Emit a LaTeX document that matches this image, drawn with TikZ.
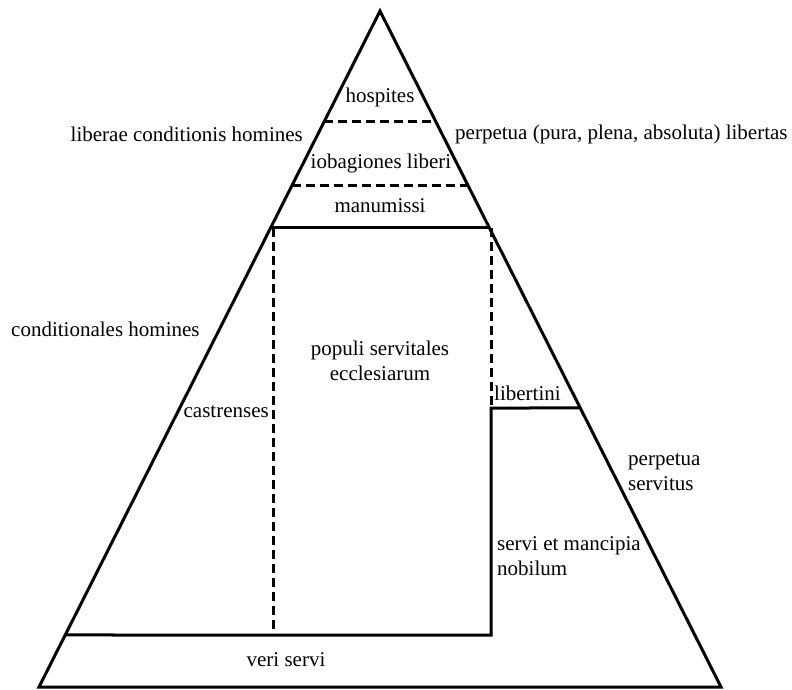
\documentclass[tikz,border=0pt]{standalone}
\usepackage{fontspec}
\setmainfont{LiberationSerif-Regular.ttf}
\usetikzlibrary{calc}
\begin{document}
\begin{tikzpicture}[x=1pt,y=-1pt,
  solidline/.style={line width=3pt},
  dashline/.style={line width=3pt,dash pattern=on 9pt off 5pt},
  lbl/.style={inner sep=0pt,font=\fontsize{21}{25}\selectfont}]
\useasboundingbox (0,0) rectangle (792,690);
\coordinate (A) at (380,11);
\coordinate (BL) at (39,687);
\coordinate (BR) at (721,687);
% edge points
\coordinate (L1) at ($(A)!{(122-11)/676}!(BL)$);
\coordinate (R1) at ($(A)!{(122-11)/676}!(BR)$);
\coordinate (L2) at ($(A)!{(186-11)/676}!(BL)$);
\coordinate (R2) at ($(A)!{(186-11)/676}!(BR)$);
\coordinate (L3) at ($(A)!{(228-11)/676}!(BL)$);
\coordinate (R3) at ($(A)!{(228-11)/676}!(BR)$);
\coordinate (R4) at ($(A)!{(408-11)/676}!(BR)$);
\coordinate (L5) at ($(A)!{(635-11)/676}!(BL)$);
\coordinate (CT) at (273,228);
\coordinate (CB) at (273,635);
\coordinate (DT) at (491,228);
\coordinate (DM) at (491,408);
\coordinate (DB) at (491,635);
% triangle
\draw[solidline,line join=miter] (A) -- (BL) -- (BR) -- cycle;
% horizontal divisions
\draw[dashline] (L1) -- (R1);
\draw[dashline] (L2) -- (R2);
\draw[solidline] (L3) -- (R3);
% inner structure
\draw[dashline] (CT) -- (CB);
\draw[dashline] (DT) -- (DM);
\draw[solidline] (R4) -- (DM) -- (DB) -- (L5);
% labels
\node[lbl] (hosp) at (380,97) {hospites};
\node[lbl] (iob) at (381,163) {iobagiones liberi};
\node[lbl] (man) at (380,206) {manumissi};
\node[lbl,anchor=east] (lib) at (303,134) {liberae conditionis homines};
\node[lbl,anchor=west] (perp) at (455,134) {perpetua (pura, plena, absoluta) libertas};
\node[lbl,anchor=west] (cond) at (11,329) {conditionales homines};
\node[lbl,align=center] (pop) at (380,361) {populi servitales\\ecclesiarum};
\node[lbl,anchor=east] (cast) at (269,412) {castrenses};
\node[lbl,anchor=west] (libt) at (494,393) {libertini};
\node[lbl,anchor=west,align=left] (ps) at (628,472) {perpetua\\servitus};
\node[lbl,anchor=west,align=left] (sm) at (497,556) {servi et mancipia\\nobilum};
\node[lbl] (veri) at (286,660) {veri servi};
\end{tikzpicture}
\end{document}
